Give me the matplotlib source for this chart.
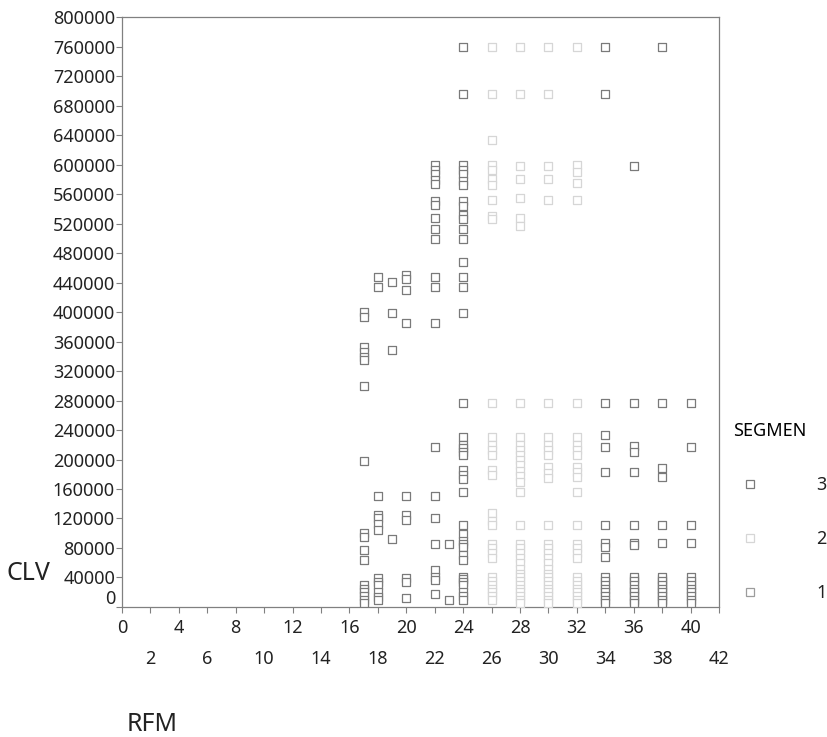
import matplotlib
matplotlib.use("Agg")
import matplotlib.pyplot as plt
from matplotlib.transforms import ScaledTranslation
from matplotlib.lines import Line2D

plt.rcParams['font.family'] = ['Noto Sans', 'DejaVu Sans']

# CLV values per RFM column
seg3 = {
    17: [400000, 393000, 353000, 346000, 339000, 335000, 300000, 198000, 100000, 95000,
         77000, 64000, 30000, 25000, 20000, 15000, 10000, 5000],
    18: [448000, 434000, 151000, 125000, 120000, 113000, 104000, 39000, 34000, 30000,
         21000, 14000, 10000],
    19: [441000, 398000, 349000, 92000],
    20: [450000, 445000, 430000, 385000, 151000, 125000, 118000, 39000, 34000, 12000],
    22: [600000, 593000, 587000, 579000, 574000, 550000, 545000, 528000, 513000, 499000,
         448000, 434000, 385000, 217000, 151000, 121000, 86000, 50000, 41000, 36000, 18000],
    23: [86000, 9000],
    24: [760000, 696000, 600000, 593000, 587000, 577000, 572000, 550000, 544000, 531000,
         526000, 513000, 499000, 468000, 448000, 434000, 398000, 276000, 231000, 220000,
         215000, 210000, 206000, 186000, 179000, 173000, 156000, 111000, 99000, 90000,
         86000, 82000, 70000, 64000, 41000, 38000, 34000, 30000, 21000, 15000, 10000],
    34: [760000, 696000, 276000, 233000, 217000, 183000, 111000, 87000, 82000, 68000,
         40000, 35000, 30000, 25000, 20000, 15000, 10000, 5000],
    36: [598000, 276000, 218000, 210000, 183000, 111000, 87000, 84000,
         40000, 35000, 30000, 25000, 20000, 15000, 10000, 5000],
    38: [760000, 276000, 188000, 176000, 111000, 87000,
         40000, 35000, 30000, 25000, 20000, 15000, 10000, 5000],
    40: [276000, 217000, 111000, 87000, 40000, 35000, 30000, 25000, 20000, 15000, 10000, 5000],
}
seg2 = {
    26: [760000, 696000, 633000, 600000, 593000, 580000, 572000, 552000, 530000, 526000,
         276000, 231000, 220000, 213000, 206000, 186000, 179000, 127000, 116000, 111000,
         86000, 80000, 73000, 66000, 40000, 35000, 30000, 25000, 20000, 15000, 10000],
    28: [760000, 696000, 598000, 580000, 555000, 528000, 516000, 276000, 231000, 220000,
         213000, 206000, 200000, 192000, 185000, 178000, 170000, 156000, 111000, 86000,
         80000, 73000, 66000, 59000, 52000, 45000, 40000, 35000, 30000, 25000, 20000,
         15000, 10000, 5000],
    30: [760000, 696000, 598000, 580000, 552000, 276000, 231000, 220000, 213000, 206000,
         190000, 182000, 175000, 111000, 86000, 80000, 73000, 66000, 59000, 52000, 45000,
         40000, 35000, 30000, 25000, 20000, 15000, 10000, 5000],
    32: [760000, 600000, 590000, 575000, 552000, 276000, 231000, 220000, 213000, 206000,
         190000, 183000, 176000, 156000, 111000, 86000, 80000, 73000, 66000, 40000, 35000,
         30000, 25000, 20000, 15000, 10000, 5000],
}
seg1 = {
    36: [38000, 22000, 8000],
    38: [38000, 28000, 18000, 8000],
}

segments = ['3', '2', '1']
seg_colors = {'3': '#7a7a7a', '2': '#d6d6d6', '1': '#9c9c9c'}
seg_data = {'3': seg3, '2': seg2, '1': seg1}

y_ticks = list(range(0, 800001, 40000))
x_major = [0, 4, 8, 12, 16, 20, 24, 28, 32, 36, 40]
x_minor = [2, 6, 10, 14, 18, 22, 26, 30, 34, 38, 42]

fig = plt.figure(figsize=(8.28, 7.37), dpi=100)
ax = fig.add_axes([0.1473, 0.1764, 0.7210, 0.8005])

for s in ['2', '1', '3']:
    xs, ys = [], []
    for rfm, vals in seg_data[s].items():
        xs += [rfm] * len(vals)
        ys += vals
    ax.scatter(xs, ys, marker='s', s=30, facecolors='white',
               edgecolors=seg_colors[s], linewidths=0.9, zorder=3)

ax.set_xlim(0, 42)
ax.set_ylim(0, 800000)

ax.set_yticks(y_ticks)
ax.set_yticklabels([str(v) for v in y_ticks])
ax.set_xticks(x_major)
ax.set_xticklabels([str(v) for v in x_major])
ax.set_xticks(x_minor, minor=True)
ax.set_xticklabels([str(v) for v in x_minor], minor=True)

ax.tick_params(which='both', direction='out', length=4, width=0.8, color='#808080',
               labelsize=13, labelcolor='#222222')
ax.tick_params(axis='x', which='major', pad=5)
ax.tick_params(axis='x', which='minor', pad=27)
ax.tick_params(axis='y', pad=1)

# the 0 label sits a little above the axis line
zero_lbl = ax.get_yticklabels()[0]
zero_lbl.set_transform(zero_lbl.get_transform() + ScaledTranslation(0, 10 / 100, fig.dpi_scale_trans))

for sp in ax.spines.values():
    sp.set_color('#808080')
    sp.set_linewidth(0.9)

ax.set_ylabel('CLV', fontsize=18, rotation=0, ha='center', va='center', color='#222222')
ax.yaxis.set_label_coords(-0.156, 0.056)
ax.set_xlabel('RFM', fontsize=18, ha='center', va='center', color='#222222')
ax.xaxis.set_label_coords(0.050, -0.2)

handles = [Line2D([], [], linestyle='none', marker='s', markersize=5.5,
                  markerfacecolor='white', markeredgecolor=seg_colors[s],
                  markeredgewidth=0.9) for s in segments]
leg = ax.legend(handles, segments, title='SEGMEN', loc='upper left',
                bbox_to_anchor=(733 / 828, 1 - 422 / 737), bbox_transform=fig.transFigure,
                frameon=False, borderpad=0, borderaxespad=0, fontsize=13,
                title_fontsize=13, handletextpad=2.7, labelspacing=2.0,
                alignment='left', handlelength=1.9)
for t in leg.get_texts():
    t.set_color('#222222')

fig.savefig('out.png', dpi=100)
